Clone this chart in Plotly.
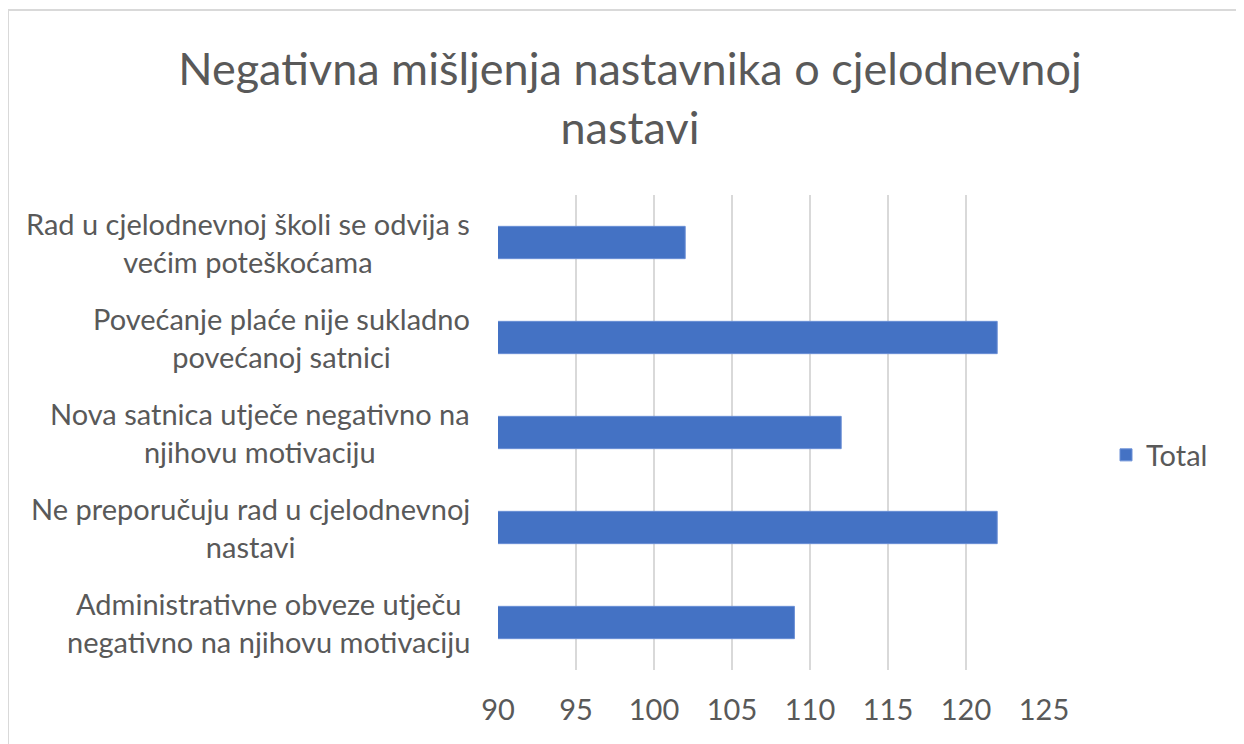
import plotly.graph_objects as go

categories = [
    "Rad u cjelodnevnoj školi se odvija s<br>većim poteškoćama",
    "Povećanje plaće nije sukladno<br>povećanoj satnici",
    "Nova satnica utječe negativno na<br>njihovu motivaciju",
    "Ne preporučuju rad u cjelodnevnoj<br>nastavi",
    "Administrativne obveze utječu<br>negativno na njihovu motivaciju",
]
values = [102, 122, 112, 122, 109]
tick_vals = [90, 95, 100, 105, 110, 115, 120, 125]

# figure is drawn at an 8px page offset
W, H = 1236, 736
L, T = 490, 187
PW, PH = 546, 475
R, B = W - L - PW, H - T - PH

FONT = "Lato"
GREY = "#595959"

fig = go.Figure()
fig.add_trace(go.Bar(
    y=categories, x=values, orientation="h", name="Total",
    marker=dict(color="#4472C4", line=dict(color="#6a8fd6", width=1)),
    showlegend=True,
))

for c in categories:
    fig.add_annotation(
        x=(464 - L) / PW, xref="paper", y=c, yref="y",
        text=c, showarrow=False, xanchor="right", yanchor="middle",
        align="center", font=dict(family=FONT, size=29, color=GREY),
    )

# outer chart border
fig.add_shape(type="rect", xref="paper", yref="paper",
              x0=(0 - L) / PW, x1=(1300 - L) / PW,
              y0=(T + PH - 800) / PH, y1=(T + PH - 2) / PH,
              line=dict(color="#d9d9d9", width=2), layer="below")

fig.update_layout(
    width=W, height=H,
    margin=dict(l=L, r=R, t=T, b=B, pad=0),
    paper_bgcolor="white", plot_bgcolor="white",
    title=dict(text="Negativna mišljenja nastavnika o cjelodnevnoj<br>nastavi",
               x=622 / W, xanchor="center", y=1 - 77 / H, yanchor="middle",
               font=dict(family=FONT, size=45, color=GREY)),
    bargap=0.66,
    xaxis=dict(range=[90, 125], tickvals=tick_vals, showgrid=True,
               gridcolor="#d9d9d9", gridwidth=1.5, zeroline=False,
               showline=False, ticks="", ticklabelstandoff=20,
               tickfont=dict(family=FONT, size=29, color=GREY)),
    yaxis=dict(autorange="reversed", showticklabels=False, showgrid=False,
               zeroline=False, showline=False, ticks=""),
    legend=dict(x=(1098 - L) / PW, xanchor="left", y=0.4526, yanchor="middle",
                font=dict(family=FONT, size=29, color=GREY),
                itemwidth=30, bgcolor="rgba(0,0,0,0)"),
    showlegend=True,
)

fig.write_html("out.html")
